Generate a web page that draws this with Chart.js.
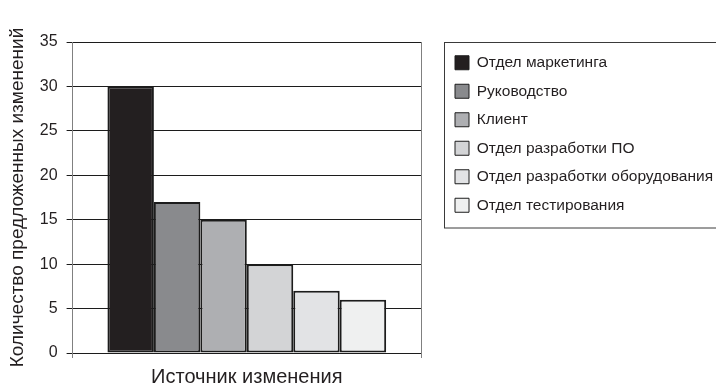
<!DOCTYPE html>
<html>
<head>
<meta charset="utf-8">
<script src="https://cdn.jsdelivr.net/npm/chart.js@4"></script>
<style>
  body { margin: 0; background: #fff; overflow: hidden; }
  #wrap { width: 716px; height: 389px; position: relative; }
</style>
</head>
<body>
<div id="wrap"><canvas id="sourceChart"></canvas></div>
<script>
var categories = ['Источник изменения'];
var sources = [
    'Отдел маркетинга',
    'Руководство',
    'Клиент',
    'Отдел разработки ПО',
    'Отдел разработки оборудования',
    'Отдел тестирования'
];
var changeCounts = [30, 17, 15, 10, 7, 6];
var sourceColors = ['#231f20', '#898a8d', '#aeafb2', '#d3d4d6', '#e2e3e5', '#eff0f0'];
var yTicks = [0, 5, 10, 15, 20, 25, 30, 35];

var font = 'Liberation Sans, Arial, sans-serif';

var datasets = sources.map(function (name, i) {
    return {
        label: name,
        data: [changeCounts[i]],
        backgroundColor: sourceColors[i],
        borderColor: '#1c1c1c',
        borderWidth: 2,
        borderSkipped: false,
        barPercentage: 1,
        categoryPercentage: 0.8
    };
});

// frame round the legend, like the original
var legendFrame = {
    id: 'legendFrame',
    afterDraw: function (chart) {
        var hb = chart.legend.legendHitBoxes;
        if (!hb || !hb.length) return;
        var c = chart.ctx;
        var x = Math.round(chart.chartArea.right + 23) + 0.5;
        var y = Math.round(chart.chartArea.top) + 0.5;
        var last = hb[hb.length - 1];
        var h = Math.round(last.top + last.height + 15) - y;
        c.save();
        c.strokeStyle = '#3a3a3a';
        c.lineWidth = 1;
        c.strokeRect(x, y, 400, h);
        c.restore();
    }
};

var ctx = document.getElementById('sourceChart').getContext('2d');
var chart = new Chart(ctx, {
    type: 'bar',
    data: { labels: categories, datasets: datasets },
    plugins: [legendFrame],
    options: {
        responsive: true,
        maintainAspectRatio: false,
        animation: false,
        layout: { padding: { top: 42, bottom: 0, left: 0, right: 0 } },
        plugins: {
            tooltip: { enabled: false },
            legend: {
                position: 'right',
                align: 'start',
                fullSize: false,
                maxWidth: 274,
                labels: {
                    font: { family: font, size: 15.5 },
                    color: '#231f20',
                    boxWidth: 14,
                    boxHeight: 14,
                    padding: 13,
                    generateLabels: function (chart) {
                        return Chart.defaults.plugins.legend.labels.generateLabels(chart).map(function (l) {
                            l.lineWidth = 1;
                            return l;
                        });
                    }
                }
            }
        },
        scales: {
            x: {
                ticks: { display: false },
                grid: { display: true, drawOnChartArea: false, tickLength: 5, color: '#808080' },
                border: { display: true, color: '#1c1c1c' },
                title: {
                    display: true,
                    text: 'Источник изменения',
                    font: { family: font, size: 20 },
                    color: '#231f20',
                    padding: { top: 7, bottom: 0 }
                }
            },
            y: {
                min: 0,
                max: 35,
                afterBuildTicks: function (axis) {
                    axis.ticks = yTicks.map(function (v) { return { value: v }; });
                },
                ticks: {
                    font: { family: font, size: 16 },
                    color: '#231f20',
                    padding: 9
                },
                grid: { color: '#1c1c1c', tickLength: 6 },
                border: { color: '#808080' },
                title: {
                    display: true,
                    text: 'Количество предложенных изменений',
                    font: { family: font, size: 19 },
                    color: '#231f20',
                    padding: { top: 6, bottom: 2 }
                }
            },
            y2: {
                type: 'linear',
                position: 'right',
                ticks: { display: false },
                grid: { display: false },
                border: { display: true, color: '#808080' },
                afterFit: function (axis) { axis.width = 21; }
            }
        }
    }
});
</script>
</body>
</html>
